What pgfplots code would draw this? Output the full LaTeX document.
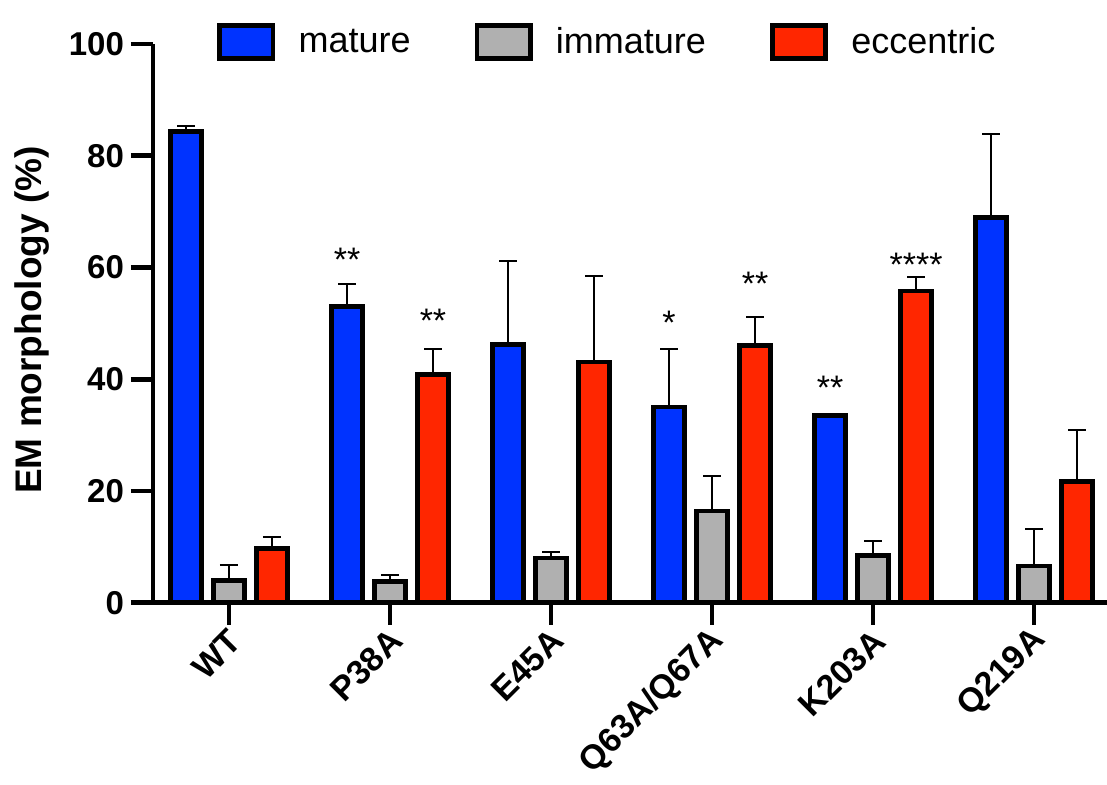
\documentclass[border=0pt]{standalone}
\usepackage{pgfplots}
\pgfplotsset{compat=1.18}
\usepackage{pgfplotstable}
\usepackage{fontspec}
\setmainfont{Liberation Sans}
\definecolor{cblue}{RGB}{0,51,255}
\definecolor{cgray}{RGB}{176,176,176}
\definecolor{cred}{RGB}{255,38,0}

\pgfplotstableread{
x y ey
-0.267 84.3 1.0
0.733 53.0 4.1
1.733 46.2 14.9
2.733 35.0 10.5
3.733 33.5 0.0
4.733 69.0 14.9
}\mature
\pgfplotstableread{
x y ey
0 4.0 2.7
1 3.8 1.1
2 8.0 1.0
3 16.4 6.2
4 8.4 2.6
5 6.6 6.6
}\immature
\pgfplotstableread{
x y ey
0.267 9.7 2.1
1.267 40.8 4.6
2.267 43.1 15.3
3.267 46.0 5.2
4.267 55.8 2.5
5.267 21.7 9.2
}\eccentric

\begin{document}
\begin{tikzpicture}
\path[use as bounding box] (-76.5pt,-90.65pt) rectangle (477pt,301.35pt);
\begin{axis}[
  at={(0pt,0pt)}, anchor=south west,
  scale only axis, width=477pt, height=279.35pt,
  xmin=-0.472, xmax=5.453, ymin=0, ymax=100,
  clip=false,
  axis x line*=bottom, axis y line*=left,
  axis line style={line width=2.3pt, -, black},
  tick style={line width=2.3pt, black},
  tick align=outside, major tick length=11pt,
  ytick={0,20,40,60,80,100},
  xtick={0,1,2,3,4,5},
  xticklabels={WT,P38A,E45A,Q63A/Q67A,K203A,Q219A},
  /pgf/number format/assume math mode=true,
  yticklabel style={font=\bfseries\fontsize{16.5}{19}\selectfont},
  xticklabel style={font=\bfseries\fontsize{17}{20}\selectfont, rotate=45, anchor=east, xshift=2pt, yshift=-6pt},
  ylabel={EM morphology (\%)},
  ylabel style={font=\bfseries\fontsize{18.5}{22}\selectfont, at={(axis description cs:-0.1268,0.506)}, anchor=center},
  legend columns=3,
  legend style={font=\fontsize{18}{21}\selectfont, draw=none, fill=none,
    at={(axis description cs:0.067,1.0036)}, anchor=west, inner sep=0pt,
    /tikz/every even column/.append style={column sep=30pt}},
  legend image code/.code={\draw[#1, line width=2.3pt] (0pt,-8.35pt) rectangle (26.7pt,8.35pt);\path[draw=none, fill=none] (0pt,0pt) -- (37.5pt,0pt);},
]
\addplot[ybar, bar shift=0pt, bar width=0.19, fill=cblue, draw=black, line width=2.3pt,
  error bars/.cd, y dir=plus, y explicit,
  error bar style={line width=1pt, black},
  error mark options={rotate=90, line width=1pt, mark size=4.5pt, black}]
  table[x=x, y=y, y error=ey] {\mature};
\addlegendentry{mature}
\addplot[ybar, bar shift=0pt, bar width=0.19, fill=cgray, draw=black, line width=2.3pt,
  error bars/.cd, y dir=plus, y explicit,
  error bar style={line width=1pt, black},
  error mark options={rotate=90, line width=1pt, mark size=4.5pt, black}]
  table[x=x, y=y, y error=ey] {\immature};
\addlegendentry{immature}
\addplot[ybar, bar shift=0pt, bar width=0.19, fill=cred, draw=black, line width=2.3pt,
  error bars/.cd, y dir=plus, y explicit,
  error bar style={line width=1pt, black},
  error mark options={rotate=90, line width=1pt, mark size=4.5pt, black}]
  table[x=x, y=y, y error=ey] {\eccentric};
\addlegendentry{eccentric}
\begin{scope}[every node/.style={font=\fontsize{17}{20}\selectfont, anchor=base, yshift=-9.8pt, inner sep=0pt}]
\node at (axis cs:0.733,62.8) {**};
\node at (axis cs:1.267,51.9) {**};
\node at (axis cs:2.733,51.5) {*};
\node at (axis cs:3.267,58.5) {**};
\node at (axis cs:3.733,39.9) {**};
\node at (axis cs:4.267,61.9) {****};
\end{scope}
\end{axis}
\end{tikzpicture}
\end{document}
